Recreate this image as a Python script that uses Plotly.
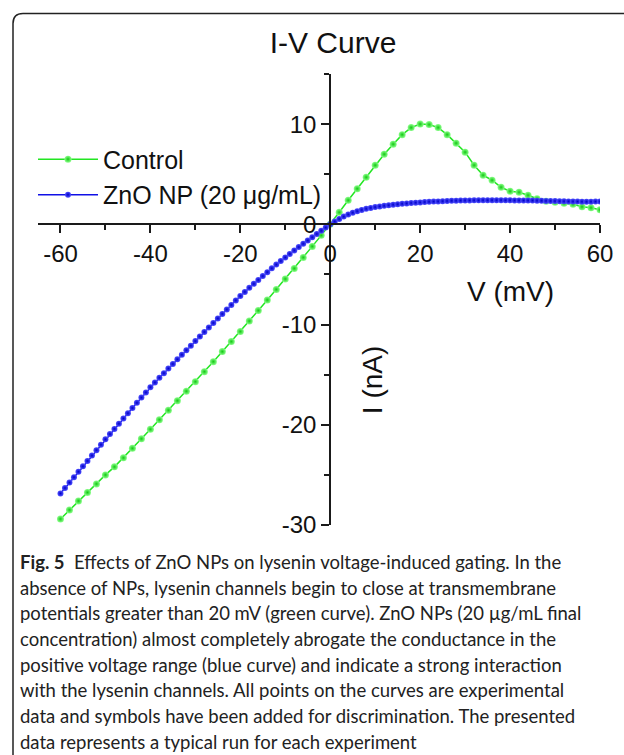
import plotly.graph_objects as go

# ---------------- data ----------------
v_control = [-60, -58, -56, -54, -52, -50, -48, -46, -44, -42, -40, -38, -36, -34, -32, -30,
             -28, -26, -24, -22, -20, -18, -16, -14, -12, -10, -8, -6, -4, -2, 0,
             2, 4, 6, 8, 10, 12, 14, 16, 18, 20, 22, 24, 26, 28, 30, 32, 34, 36, 38, 40,
             42, 44, 46, 48, 50, 52, 54, 56, 58, 60]
i_control = [-29.4, -28.5, -27.6, -26.75, -25.9, -25.0, -24.2, -23.3, -22.35, -21.4, -20.45,
             -19.5, -18.55, -17.6, -16.65, -15.7, -14.7, -13.7, -12.7, -11.7, -10.7, -9.65,
             -8.6, -7.55, -6.5, -5.45, -4.4, -3.3, -2.2, -1.1, 0.0,
             1.2, 2.4, 3.55, 4.7, 5.9, 7.0, 8.0, 8.95, 9.65, 10.0, 9.95, 9.65, 8.95, 8.1, 7.2,
             5.9, 4.9, 4.4, 3.7, 3.3, 3.2, 2.9, 2.55, 2.3, 2.2, 2.1, 2.0, 1.75, 1.65, 1.45]

v_zno = list(range(-60, 61))
i_zno = [-26.85, -26.31, -25.77, -25.23, -24.69, -24.15, -23.61, -23.07, -22.53, -21.99,
         -21.45, -20.93, -20.41, -19.89, -19.37, -18.85, -18.33, -17.81, -17.29, -16.77,
         -16.25, -15.78, -15.31, -14.85, -14.39, -13.93, -13.47, -13.01, -12.56, -12.11,
         -11.65, -11.19, -10.74, -10.29, -9.84, -9.39, -8.94, -8.49, -8.04, -7.59,
         -7.15, -6.74, -6.34, -5.94, -5.55, -5.16, -4.77, -4.39, -4.02, -3.66,
         -3.30, -2.95, -2.61, -2.27, -1.94, -1.61, -1.29, -0.96, -0.64, -0.32,
         0.00,
         0.28, 0.54, 0.77, 0.98, 1.16, 1.31, 1.44, 1.55, 1.64, 1.72,
         1.79, 1.85, 1.91, 1.96, 2.01, 2.05, 2.09, 2.13, 2.16, 2.19,
         2.22, 2.25, 2.27, 2.29, 2.31, 2.33, 2.35, 2.36, 2.37, 2.38,
         2.39, 2.40, 2.40, 2.41, 2.41, 2.41, 2.41, 2.41, 2.40, 2.40,
         2.39, 2.39, 2.38, 2.38, 2.37, 2.36, 2.35, 2.34, 2.33, 2.32,
         2.31, 2.30, 2.29, 2.28, 2.27, 2.26, 2.25, 2.26, 2.27, 2.28]

x_ticks = [-60, -40, -20, 0, 20, 40, 60]
x_ticklabels = ["-60", "-40", "-20", "0", "20", "40", "60"]
y_ticks = [-30, -20, -10, 0, 10]
y_ticklabels = ["-30", "-20", "-10", "0", "10"]

title_text = "I-V Curve"
x_title = "V (mV)"
y_title = "I (nA)"
name_control = "Control"
name_zno = "ZnO NP (20 \u03bcg/mL)"

caption_lines = [
    "<b>Fig. 5</b>  Effects of ZnO NPs on lysenin voltage-induced gating. In the",
    "absence of NPs, lysenin channels begin to close at transmembrane",
    "potentials greater than 20 mV (green curve). ZnO NPs (20 \u00b5g/mL final",
    "concentration) almost completely abrogate the conductance in the",
    "positive voltage range (blue curve) and indicate a strong interaction",
    "with the lysenin channels. All points on the curves are experimental",
    "data and symbols have been added for discrimination. The presented",
    "data represents a typical run for each experiment",
]

# ---------------- layout geometry (pixels) ----------------
W, H = 624, 755
L, R, T, B = 38, 24, 73.5, 230
PW, PH = W - L - R, H - T - B


def px(x):
    return (x - L) / PW


def py(y):
    return (H - B - y) / PH


FONT = "Liberation Sans, Arial, sans-serif"
AXC = "#1a1a1a"

fig = go.Figure()
fig.add_trace(go.Scatter(
    x=v_control, y=i_control, name=name_control, mode="lines+markers",
    line=dict(color="#22e622", width=1.5),
    marker=dict(size=7, color="#8cff8c", line=dict(width=0),
                gradient=dict(type="radial", color="#12c812")),
))
fig.add_trace(go.Scatter(
    x=v_zno, y=i_zno, name=name_zno, mode="lines+markers",
    line=dict(color="#1010e6", width=1.5),
    marker=dict(size=6, color="#5050ff", line=dict(width=0),
                gradient=dict(type="radial", color="#0000c8")),
))

fig.update_layout(
    width=W, height=H,
    margin=dict(l=L, r=R, t=T, b=B),
    paper_bgcolor="white", plot_bgcolor="white",
    font=dict(family=FONT, color="#111", size=24),
    title=dict(text=title_text, x=333 / W, xref="container", xanchor="center",
               y=1 - 42 / H, yref="container", yanchor="middle",
               font=dict(size=30, family=FONT, color="#111")),
    showlegend=True,
    legend=dict(x=px(33), y=py(136), xanchor="left", yanchor="top",
                font=dict(size=25, family=FONT, color="#111"),
                bgcolor="rgba(0,0,0,0)", itemwidth=60, tracegroupgap=0),
    xaxis=dict(range=[-65, 60], anchor="free", position=30 / 45,
               showgrid=False, zeroline=False, showline=True, linecolor=AXC, linewidth=2,
               tickmode="array", tickvals=x_ticks, ticktext=x_ticklabels,
               ticks="outside", ticklen=8,
               tickwidth=2, tickcolor=AXC, tickfont=dict(size=24),
               minor=dict(ticks="outside", dtick=10, tick0=0, ticklen=5, tickwidth=2,
                          tickcolor=AXC, showgrid=False)),
    yaxis=dict(range=[-30, 15], anchor="free", position=65 / 125,
               showgrid=False, zeroline=False, showline=True, linecolor=AXC, linewidth=2,
               tickmode="array", tickvals=y_ticks, ticktext=y_ticklabels,
               ticks="outside", ticklen=8,
               tickwidth=2, tickcolor=AXC, tickfont=dict(size=24),
               minor=dict(ticks="outside", dtick=5, tick0=0, ticklen=5, tickwidth=2,
                          tickcolor=AXC, showgrid=False)),
)

# axis titles
fig.add_annotation(text=x_title, x=px(510), y=py(291), xref="paper", yref="paper",
                   xanchor="center", yanchor="middle",
                   showarrow=False, font=dict(size=28, family=FONT, color="#111"))
fig.add_annotation(text=y_title, x=px(372), y=py(380), xref="paper", yref="paper",
                   xanchor="center", yanchor="middle",
                   showarrow=False, textangle=-90,
                   font=dict(size=28, family=FONT, color="#111"))

# caption
CAP_FONT = "Lato, Open Sans, sans-serif"
for k, line in enumerate(caption_lines):
    fig.add_annotation(text=line, x=px(18), y=py(562 + k * 25.7), xref="paper", yref="paper",
                       xanchor="left", yanchor="middle", showarrow=False, align="left",
                       font=dict(size=18.5, family=CAP_FONT, color="#222"))

# rounded panel border
x0, y0, rad = 13, 13, 10
path = (f"M {px(x0)},{py(H + 5)} L {px(x0)},{py(y0 + rad)} "
        f"Q {px(x0)},{py(y0)} {px(x0 + rad)},{py(y0)} L {px(W + 5)},{py(y0)}")
fig.add_shape(type="path", path=path, xref="paper", yref="paper",
              line=dict(color="#222", width=1.5))

fig.write_html("out.html",
               config={"displayModeBar": False},
               post_script="document.body.style.margin='0';"
                           "document.documentElement.style.overflow='hidden';")
